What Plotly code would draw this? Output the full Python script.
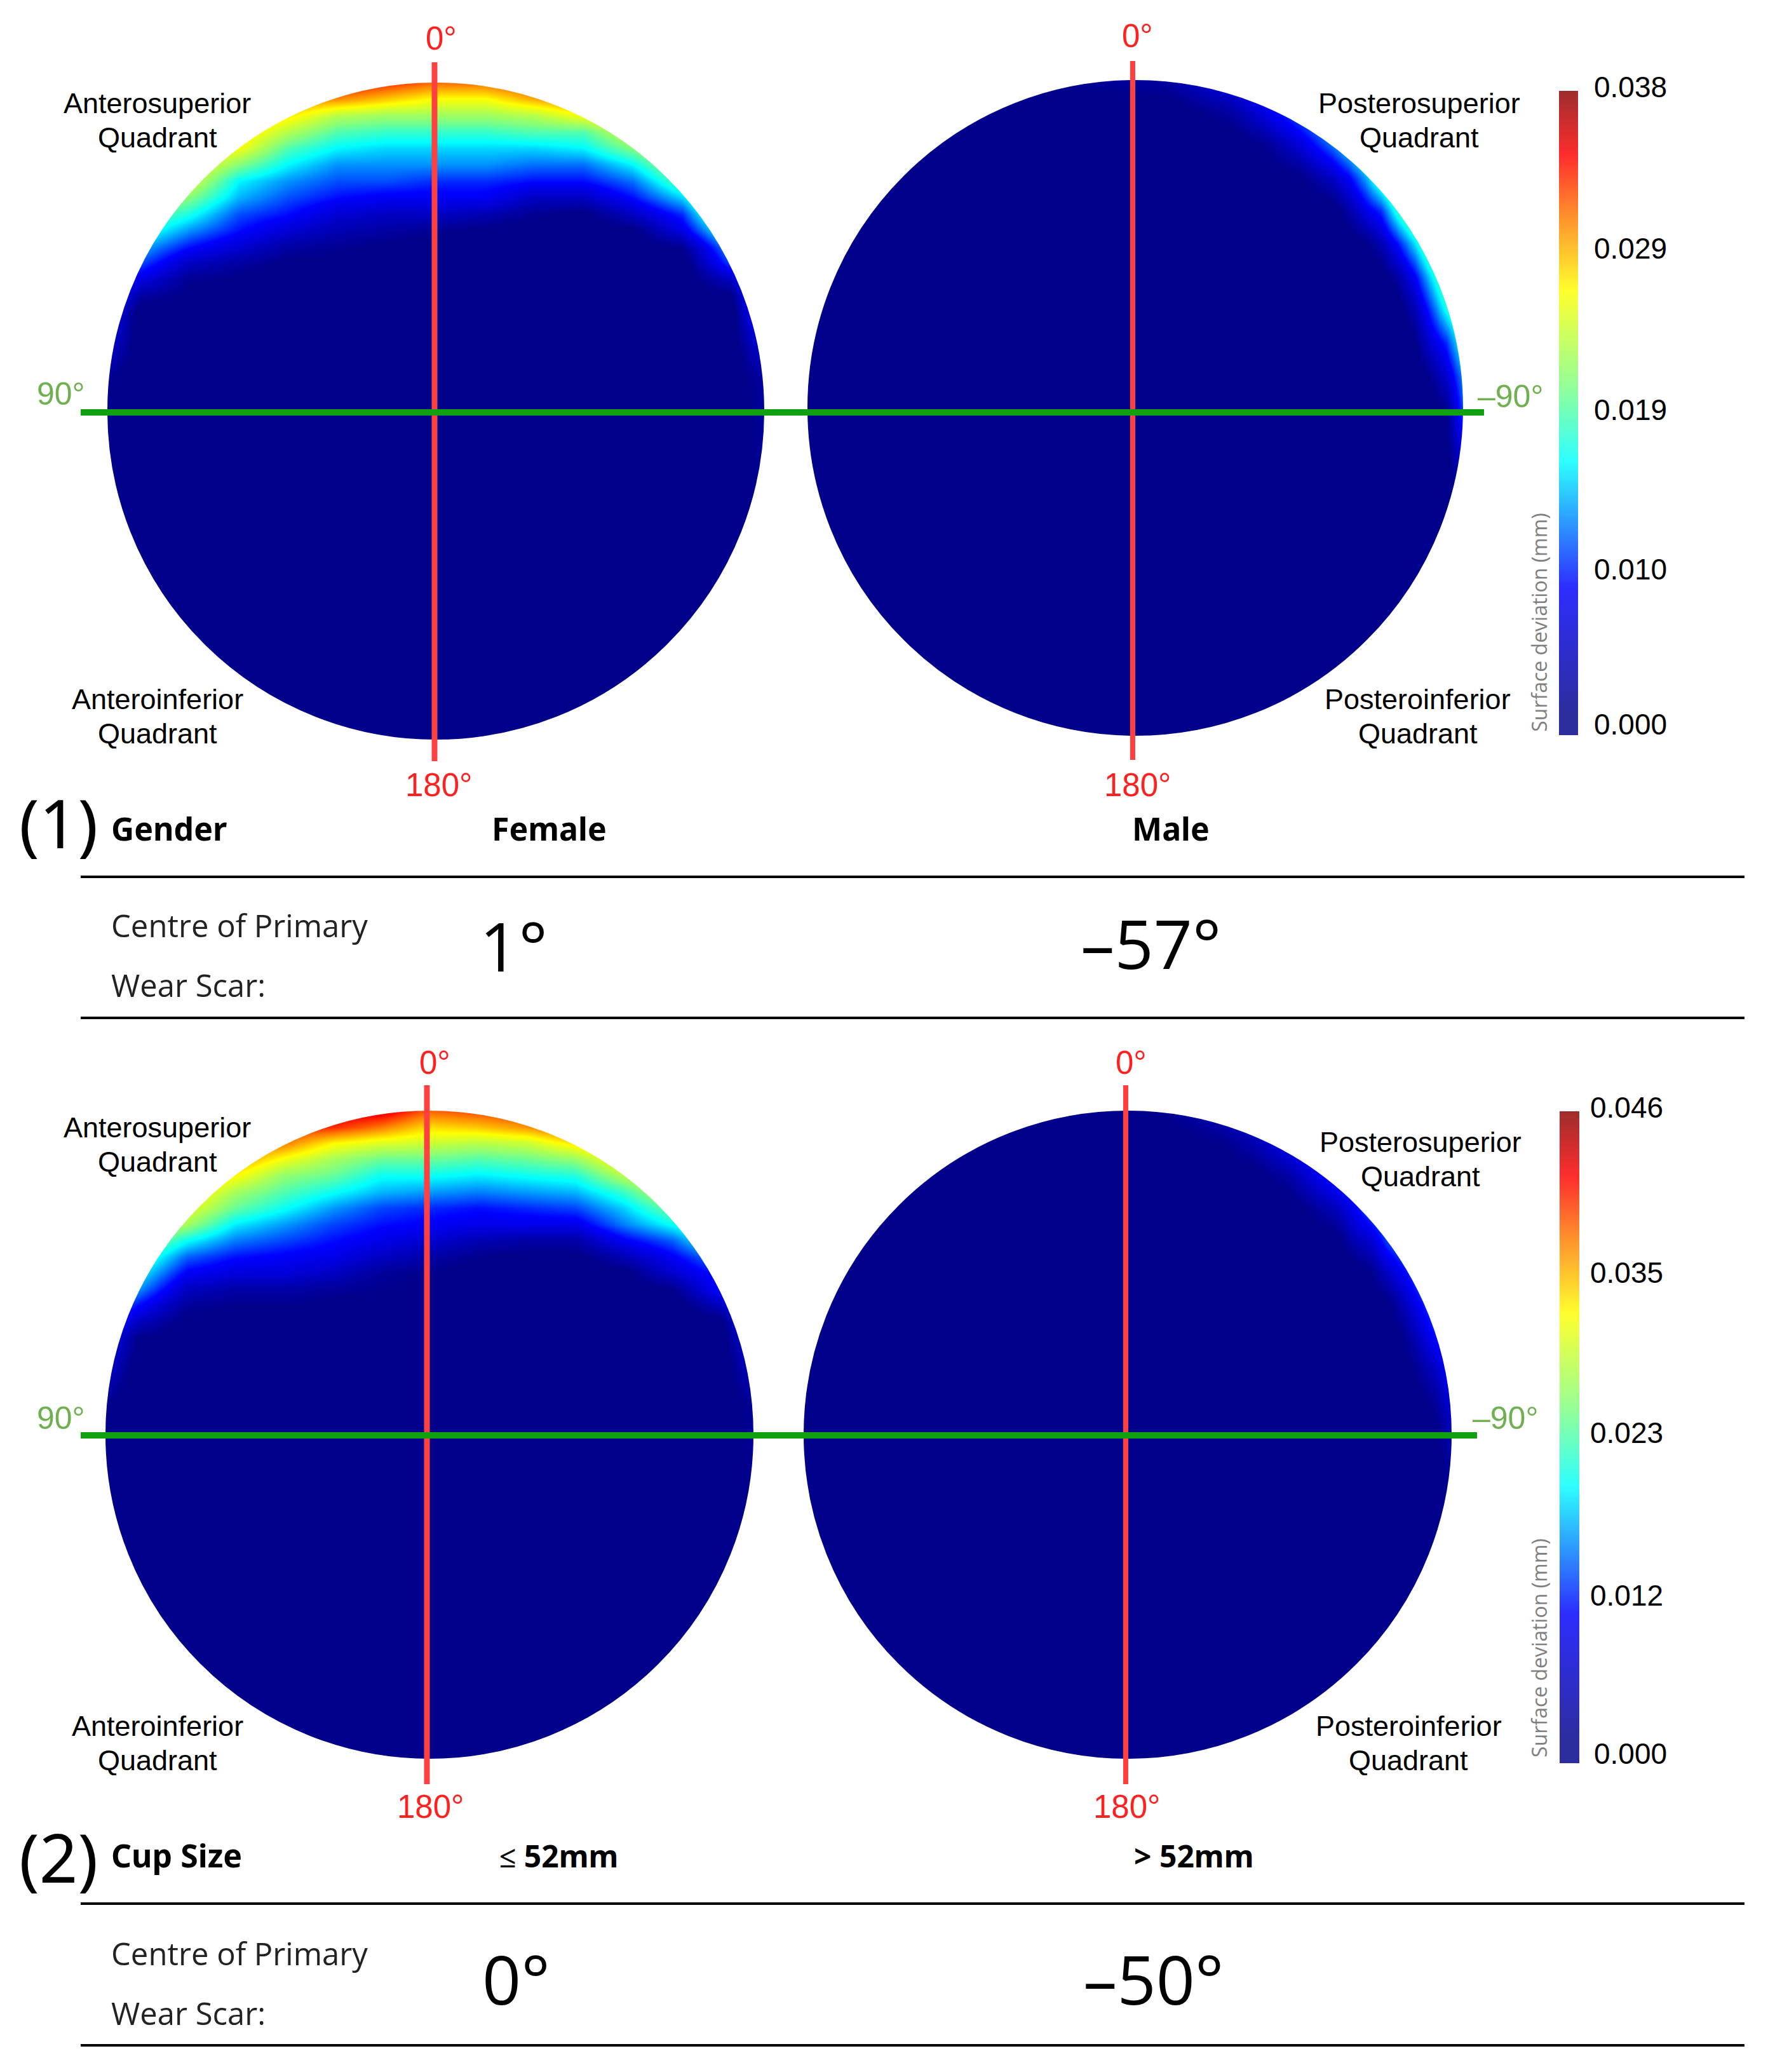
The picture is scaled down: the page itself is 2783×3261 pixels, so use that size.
import plotly.graph_objects as go

W, H = 2783, 3261
S = W / 1338  # label positions were measured on the shrunk picture
OFF = 8  # default body margin of the page written by write_html

anterior_u = [-1, -.9, -.75, -.6, -.45, -.3, -.15, 0, .15, .3, .45, .6, .75, .9, 1]
anterior_v = [1, .95, .9, .85, .8, .75, .7, .65, .6, .55, .5, .45, .4, .35, .3, .2, .1, -1]
female = [
    [32, 32, 32, 32, 33, 35, 33, 31, 31, 33, 34, 34, 34, 34, 34],
    [32, 32, 32, 31, 30, 30, 28, 26, 26, 29, 31, 32, 33, 34, 34],
    [32, 32, 31, 30, 27, 23, 22, 22, 22, 23, 26, 29, 32, 34, 34],
    [31, 31, 30, 28, 23, 19, 18, 18, 18, 19, 19, 25, 30, 33, 33],
    [31, 31, 28, 26, 19, 16, 15, 15, 15, 15, 16, 21, 27, 33, 33],
    [30, 30, 27, 21, 16, 13, 13, 13, 13, 12, 12, 16, 24, 32, 32],
    [28, 28, 25, 16, 13, 11, 11, 10, 10, 9, 9, 12, 20, 30, 31],
    [26, 25, 21, 14, 11, 9, 8, 8, 8, 5, 5, 9, 15, 28, 30],
    [25, 21, 17, 11, 9, 6, 5, 5, 4, 2, 1, 5, 10, 25, 27],
    [22, 18, 13, 9, 6, 4, 3, 2, 1, 0, 0, 1, 7, 19, 23],
    [18, 14, 9, 6, 3, 2, 1, 1, 0, 0, 0, 0, 2, 14, 20],
    [15, 11, 5, 3, 1, 1, 0, 0, 0, 0, 0, 0, 0, 11, 19],
    [13, 7, 2, 1, 0, 0, 0, 0, 0, 0, 0, 0, 0, 5, 18],
    [11, 3, 1, 0, 0, 0, 0, 0, 0, 0, 0, 0, 0, 1, 16],
    [9, 0, 0, 0, 0, 0, 0, 0, 0, 0, 0, 0, 0, 0, 13],
    [6, 0, 0, 0, 0, 0, 0, 0, 0, 0, 0, 0, 0, 0, 7],
    [2, 0, 0, 0, 0, 0, 0, 0, 0, 0, 0, 0, 0, 0, 3],
    [0, 0, 0, 0, 0, 0, 0, 0, 0, 0, 0, 0, 0, 0, 0],
]
small_cup = [
    [39, 39, 39, 40, 41, 43, 43, 38, 39, 40, 42, 42, 42, 42, 42],
    [39, 38, 39, 39, 40, 40, 37, 33, 34, 36, 39, 40, 41, 42, 42],
    [38, 38, 38, 38, 37, 32, 30, 29, 28, 29, 33, 37, 39, 41, 41],
    [37, 37, 37, 36, 31, 27, 24, 24, 23, 24, 26, 33, 37, 40, 40],
    [36, 36, 36, 32, 26, 24, 20, 20, 19, 20, 21, 28, 34, 38, 38],
    [36, 36, 34, 27, 23, 20, 17, 16, 15, 16, 17, 22, 30, 36, 36],
    [35, 34, 31, 24, 20, 16, 13, 12, 11, 12, 13, 18, 25, 32, 34],
    [33, 32, 27, 19, 16, 13, 11, 10, 9, 9, 9, 15, 20, 27, 30],
    [30, 28, 20, 15, 13, 11, 9, 7, 5, 4, 4, 10, 14, 23, 26],
    [27, 24, 14, 11, 10, 9, 6, 4, 2, 1, 1, 5, 10, 16, 22],
    [23, 20, 10, 8, 8, 6, 3, 2, 1, 0, 0, 1, 7, 12, 19],
    [20, 16, 6, 4, 4, 3, 2, 1, 0, 0, 0, 0, 2, 11, 17],
    [17, 11, 3, 2, 2, 1, 1, 0, 0, 0, 0, 0, 0, 6, 16],
    [14, 6, 1, 1, 1, 0, 0, 0, 0, 0, 0, 0, 0, 1, 14],
    [11, 2, 0, 0, 0, 0, 0, 0, 0, 0, 0, 0, 0, 0, 10],
    [7, 0, 0, 0, 0, 0, 0, 0, 0, 0, 0, 0, 0, 0, 6],
    [2, 0, 0, 0, 0, 0, 0, 0, 0, 0, 0, 0, 0, 0, 3],
    [0, 0, 0, 0, 0, 0, 0, 0, 0, 0, 0, 0, 0, 0, 0],
]

posterior_u = [-1, .1, .3, .4, .5, .6, .65, .7, .75, .8, .85, .9, .95, 1]
posterior_v = [1, .9, .8, .7, .6, .5, .4, .3, .2, .1, 0, -.2, -1]
male = [
    [0, 3, 8, 12, 15, 18, 20, 22, 23, 24, 25, 25, 25, 25],
    [0, 0, 3, 7, 12, 17, 20, 22, 23, 24, 24, 25, 25, 25],
    [0, 0, 0, 2, 6, 12, 16, 21, 24, 25, 25, 25, 25, 25],
    [0, 0, 0, 0, 1, 5, 8, 13, 20, 25, 25, 25, 25, 25],
    [0, 0, 0, 0, 0, 0, 3, 7, 10, 18, 24, 25, 25, 25],
    [0, 0, 0, 0, 0, 0, 0, 1, 4, 9, 15, 22, 24, 25],
    [0, 0, 0, 0, 0, 0, 0, 0, 0, 3, 8, 15, 22, 24],
    [0, 0, 0, 0, 0, 0, 0, 0, 0, 0, 4, 10, 17, 22],
    [0, 0, 0, 0, 0, 0, 0, 0, 0, 0, 1, 6, 10, 18],
    [0, 0, 0, 0, 0, 0, 0, 0, 0, 0, 0, 2, 6, 13],
    [0, 0, 0, 0, 0, 0, 0, 0, 0, 0, 0, 0, 2, 11],
    [0, 0, 0, 0, 0, 0, 0, 0, 0, 0, 0, 0, 0, 5],
    [0, 0, 0, 0, 0, 0, 0, 0, 0, 0, 0, 0, 0, 0],
]
large_cup = [
    [0, 2, 6, 9, 12, 14, 15, 16, 17, 18, 18, 18, 18, 18],
    [0, 0, 2, 5, 10, 14, 15, 16, 17, 18, 18, 18, 18, 18],
    [0, 0, 0, 1, 4, 10, 13, 15, 17, 18, 18, 18, 18, 18],
    [0, 0, 0, 0, 0, 4, 6, 10, 15, 17, 18, 18, 18, 18],
    [0, 0, 0, 0, 0, 0, 1, 5, 7, 13, 16, 18, 18, 18],
    [0, 0, 0, 0, 0, 0, 0, 0, 2, 6, 10, 15, 17, 18],
    [0, 0, 0, 0, 0, 0, 0, 0, 0, 1, 5, 10, 15, 17],
    [0, 0, 0, 0, 0, 0, 0, 0, 0, 0, 2, 6, 11, 15],
    [0, 0, 0, 0, 0, 0, 0, 0, 0, 0, 0, 3, 6, 12],
    [0, 0, 0, 0, 0, 0, 0, 0, 0, 0, 0, 1, 3, 8],
    [0, 0, 0, 0, 0, 0, 0, 0, 0, 0, 0, 0, 1, 5],
    [0, 0, 0, 0, 0, 0, 0, 0, 0, 0, 0, 0, 0, 2],
    [0, 0, 0, 0, 0, 0, 0, 0, 0, 0, 0, 0, 0, 0],
]

scale_top = [0.000, 0.010, 0.019, 0.029, 0.038]
scale_bottom = [0.000, 0.012, 0.023, 0.035, 0.046]

jet = [
    [0, "rgb(0,0,139)"], [0.04, "rgb(0,0,139)"], [0.23, "rgb(0,0,255)"],
    [0.425, "rgb(0,255,255)"], [0.545, "rgb(128,255,128)"], [0.69, "rgb(255,255,0)"],
    [0.8, "rgb(255,128,0)"], [0.9, "rgb(255,0,0)"], [1, "rgb(139,0,0)"],
]

# disc centre x, centre y, radius in page pixels
discs = [
    (686, 647, 517, anterior_u, anterior_v, female, 38),
    (1787, 642, 516, posterior_u, posterior_v, male, 38),
    (676, 2258, 510, anterior_u, anterior_v, small_cup, 46),
    (1775, 2258, 510, posterior_u, posterior_v, large_cup, 46),
]
bars = [(2454, 2484, 143, 1157, scale_top), (2455, 2486, 1749, 2775, scale_bottom)]

fig = go.Figure()
layout_axes = {}
shapes = []


def add_axes(n, left, right, top, bottom, xr, yr):
    sfx = "" if n == 1 else str(n)
    layout_axes["xaxis" + sfx] = dict(domain=[(left - OFF) / W, (right - OFF) / W], range=xr, visible=False,
                                      fixedrange=True)
    layout_axes["yaxis" + sfx] = dict(domain=[1 - (bottom - OFF) / H, 1 - (top - OFF) / H], range=yr, visible=False,
                                      fixedrange=True, anchor="x" + sfx)
    return "x" + sfx, "y" + sfx


n = 0
for cx, cy, r, us, vs, vals, zmax in discs:
    n += 1
    xa, ya = add_axes(n, cx - r, cx + r, cy - r, cy + r, [-1, 1], [-1, 1])
    fig.add_trace(go.Heatmap(x=us, y=vs[::-1], z=vals[::-1], zmin=0, zmax=zmax, zsmooth="best",
                             colorscale=jet, showscale=False, hoverinfo="skip", xaxis=xa, yaxis=ya))
    # white ring hides the square corners of the heatmap
    shapes.append(dict(type="circle", xref=xa, yref=ya, x0=-1.225, x1=1.225, y0=-1.225, y1=1.225,
                       line=dict(color="white", width=0.45 * r), layer="above"))

for left, right, top, bottom, ticks in bars:
    n += 1
    xa, ya = add_axes(n, left, right, top, bottom, [0, 1], [ticks[0], ticks[-1]])
    fig.add_trace(go.Heatmap(x=[0, 1], y=ticks, z=[[t, t] for t in ticks], zmin=ticks[0], zmax=ticks[-1],
                             zsmooth="best", colorscale=jet, opacity=0.82, showscale=False,
                             hoverinfo="skip", xaxis=xa, yaxis=ya))


def line(x0, y0, x1, y1, color, width):
    shapes.append(dict(type="line", xref="paper", yref="paper", x0=(x0 - OFF) / W, x1=(x1 - OFF) / W,
                       y0=1 - (y0 - OFF) / H, y1=1 - (y1 - OFF) / H, line=dict(color=color, width=width),
                       layer="above"))


RED = "#ff4040"
GREEN = "#10a010"
line(684, 98, 684, 1198, RED, 9)
line(1783, 96, 1783, 1196, RED, 8)
line(672, 1708, 672, 2808, RED, 9)
line(1772, 1708, 1772, 2808, RED, 8)
line(127, 649, 2336, 649, GREEN, 10)
line(127, 2259, 2325, 2259, GREEN, 10)
for y in [1380, 1602, 2996, 3219]:
    line(127, y, 2746, y, "black", 4)

annotations = []
ARIAL = "Liberation Sans"


def label(text, x, y, size, color="black", anchor="center", family="Open Sans", bold=False, angle=0):
    t = "<b>" + text + "</b>" if bold else text
    annotations.append(dict(text=t, x=(x * S - OFF) / W, y=1 - (y * S - OFF) / H, xref="paper", yref="paper",
                            showarrow=False, xanchor=anchor, yanchor="middle", textangle=angle,
                            font=dict(size=size, color=color, family=family)))


for x, y in [(334, 29), (861, 27), (332, 594), (861, 594), (329, 804), (856, 804), (326, 1367), (853, 1367)]:
    label("0°" if y in (29, 27, 804) else "180°", x, y, 51, "#ff2020", family=ARIAL)
for x, y, t in [(46, 298, "90°"), (1143, 300, "–90°"), (46, 1073, "90°"), (1139, 1073, "–90°")]:
    label(t, x, y, 50, "#70b050", family=ARIAL)

quadrants = [
    ("Anterosuperior", 119, 78), ("Posterosuperior", 1074, 78),
    ("Anteroinferior", 119, 529), ("Posteroinferior", 1073, 529),
    ("Anterosuperior", 119, 853), ("Posterosuperior", 1075, 864),
    ("Anteroinferior", 119, 1306), ("Posteroinferior", 1066, 1306),
]
for name, x, y in quadrants:
    label(name, x, y, 45, family=ARIAL)
    label("Quadrant", x, y + 26, 45, family=ARIAL)

for y, v in zip([548, 431, 310, 188, 66], scale_top):
    label(f"{v:.3f}", 1234, y, 46, family=ARIAL)
for y, v in zip([1327, 1207, 1084, 963, 838], scale_bottom):
    label(f"{v:.3f}", 1231 if y != 1327 else 1234, y, 46, family=ARIAL)
label("Surface deviation (mm)", 1165, 471, 32, "#808080", angle=-90)
label("Surface deviation (mm)", 1165, 1247, 32, "#808080", angle=-90)

label("(1)", 44, 622, 106, family="Noto Sans")
label("(2)", 44, 1405, 106, family="Noto Sans")
label("Gender", 83, 627, 50, anchor="left", family="Noto Sans", bold=True)
label("Female", 371, 627, 50, anchor="left", family="Noto Sans", bold=True)
label("Male", 856, 627, 50, anchor="left", family="Noto Sans", bold=True)
label("Cup Size", 83, 1404, 50, anchor="left", family="Noto Sans", bold=True)
label("≤ 52mm", 377, 1404, 48, anchor="left", family="Noto Sans", bold=True)
label("&gt; 52mm", 857, 1404, 48, anchor="left", family="Noto Sans", bold=True)

for y_c, y_w in [(700, 745), (1478, 1523)]:
    label("Centre of Primary", 83, y_c, 49, "#222222", anchor="left")
    label("Wear Scar:", 83, y_w, 49, "#222222", anchor="left")
label("1°", 362, 715, 107, anchor="left")
label("–57°", 817, 713, 107, anchor="left")
label("0°", 364, 1497, 107, anchor="left")
label("–50°", 819, 1497, 107, anchor="left")

fig.update_layout(width=W, height=H, margin=dict(l=0, r=0, t=0, b=0), paper_bgcolor="white",
                  plot_bgcolor="white", showlegend=False, shapes=shapes, annotations=annotations, **layout_axes)
fig.write_html("out.html")
